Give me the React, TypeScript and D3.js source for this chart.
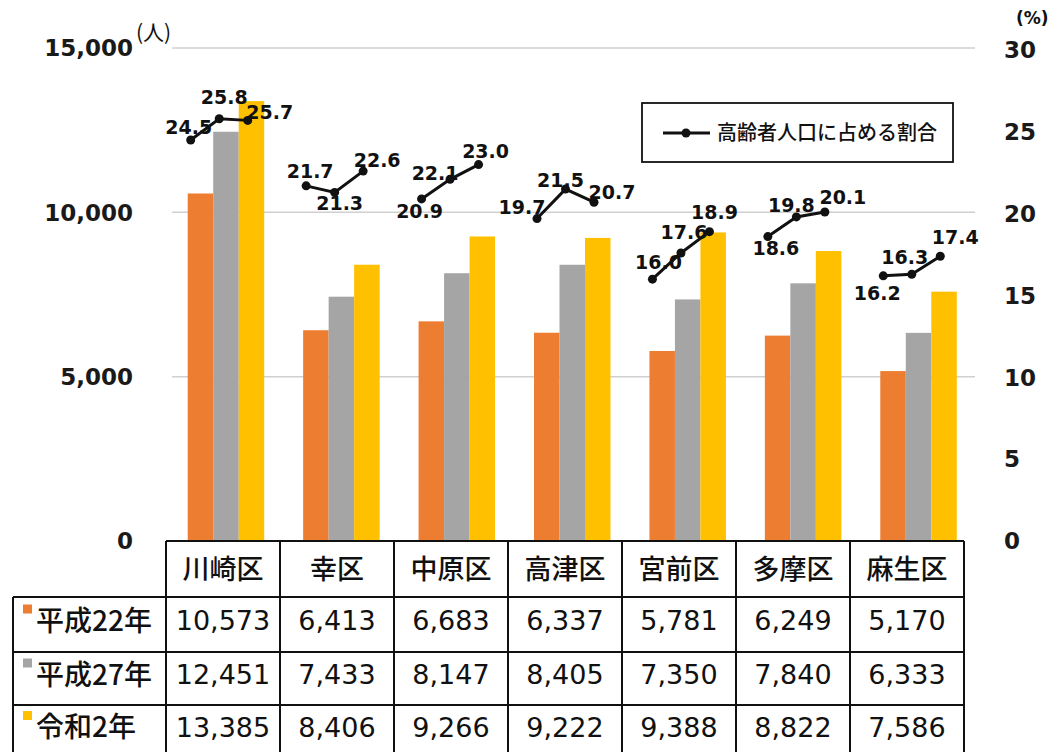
import React from 'react';
import * as d3 from 'd3';

const districts = ['川崎区', '幸区', '中原区', '高津区', '宮前区', '多摩区', '麻生区'];
const seriesNames = ['平成22年', '平成27年', '令和2年'];

const popH22 = [10573, 6413, 6683, 6337, 5781, 6249, 5170];
const popH27 = [12451, 7433, 8147, 8405, 7350, 7840, 6333];
const popR2 = [13385, 8406, 9266, 9222, 9388, 8822, 7586];

// 高齢者人口に占める割合 (%)
const ratioH22 = [24.5, 21.7, 20.9, 19.7, 16.0, 18.6, 16.2];
const ratioH27 = [25.8, 21.3, 22.1, 21.5, 17.6, 19.8, 16.3];
const ratioR2 = [25.7, 22.6, 23.0, 20.7, 18.9, 20.1, 17.4];

const leftTicks = [0, 5000, 10000, 15000];
const rightTicks = [0, 5, 10, 15, 20, 25, 30];

const legendLabel = '高齢者人口に占める割合';

// label offsets (dx, dy) per district, per year — placement only
const labelOffsets: [number, number][][] = [
  [[-2, -13], [5, -22], [22, -8]],
  [[4, -15], [5, 11], [14, -11]],
  [[-2, 12], [-15, -6], [7, -13]],
  [[-15, -11], [-5, -9], [18, -10]],
  [[6, -17], [3, -21], [5, -20]],
  [[8, 12], [-5, -12], [18, -15]],
  [[-6, 17], [-7, -17], [15, -19]],
];

const COLORS = ['#ED7D31', '#A5A5A5', '#FFC000'];
const NUM_FONT = '"DejaVu Sans", Verdana, sans-serif';
const JP_FONT = '"Noto Sans CJK JP", sans-serif';

export default function App() {
  const W = 1057;
  const H = 752;
  const y0 = 541;

  const pops = [popH22, popH27, popR2];
  const ratios = [ratioH22, ratioH27, ratioR2];

  const x = d3.scaleBand<string>().domain(districts).range([168, 976]);
  const xTable = d3.scaleBand<string>().domain(districts).range([166, 964]);
  const xBar = d3.scaleBand<number>().domain([0, 1, 2]).range([-38, 38.5]);
  const xPt = d3.scalePoint<number>().domain([0, 1, 2]).range([-35, 22]);

  const yL = d3.scaleLinear().domain([0, 15000]).range([y0, 48]);
  const yR = d3.scaleLinear().domain([0, 30]).range([y0, 50]);

  const fmt = d3.format(',');
  const line = d3.line<[number, number]>().x(d => d[0]).y(d => d[1]);

  const rowTops = [541, 597, 652, 705, 760];

  return (
    <svg width={W} height={H} style={{ position: 'absolute', left: 0, top: 0, background: '#fff' }}>
      {/* gridlines */}
      {leftTicks.filter(t => t > 0).map(t => (
        <line key={t} x1={172} x2={975} y1={yL(t)} y2={yL(t)} stroke="#d0d0d0" strokeWidth={1.5} />
      ))}

      {/* left axis */}
      {leftTicks.map(t => (
        <text key={t} x={133} y={yL(t)} dy="0.36em" textAnchor="end" fontFamily={NUM_FONT} fontSize={23} fontWeight="bold" fill="#1a1a1a">
          {fmt(t)}
        </text>
      ))}
      <text x={136} y={32} dy="0.36em" fontFamily={JP_FONT} fontSize={21} fill="#111">(人)</text>

      {/* right axis */}
      {rightTicks.map(t => (
        <text key={t} x={1004} y={yR(t)} dy="0.36em" textAnchor="start" fontFamily={NUM_FONT} fontSize={23} fontWeight="bold" fill="#1a1a1a">
          {t}
        </text>
      ))}
      <text x={1016} y={18} dy="0.36em" fontFamily={NUM_FONT} fontSize={17} fontWeight="bold" fill="#111">(%)</text>

      {/* bars */}
      {districts.map((d, i) => (
        <g key={d} transform={`translate(${x(d)! + x.bandwidth() / 2},0)`}>
          {pops.map((p, s) => (
            <rect key={s} x={xBar(s)} y={yL(p[i])} width={xBar.bandwidth()} height={y0 - yL(p[i])} fill={COLORS[s]} />
          ))}
        </g>
      ))}

      {/* ratio lines */}
      {districts.map((d, i) => {
        const cx = x(d)! + x.bandwidth() / 2;
        const pts: [number, number][] = ratios.map((r, s) => [cx + xPt(s)!, yR(r[i])]);
        return (
          <g key={d}>
            <path d={line(pts)!} fill="none" stroke="#111" strokeWidth={3} />
            {pts.map((p, s) => (
              <circle key={s} cx={p[0]} cy={p[1]} r={4.5} fill="#111" />
            ))}
            {pts.map((p, s) => (
              <text key={'t' + s} x={p[0] + labelOffsets[i][s][0]} y={p[1] + labelOffsets[i][s][1]} dy="0.36em"
                textAnchor="middle" fontFamily={NUM_FONT} fontSize={19} fontWeight="bold" fill="#111">
                {ratios[s][i].toFixed(1)}
              </text>
            ))}
          </g>
        );
      })}

      {/* legend */}
      <rect x={642} y={103} width={311} height={59} fill="#fff" stroke="#111" strokeWidth={1.8} />
      <line x1={663} x2={710} y1={133} y2={133} stroke="#111" strokeWidth={3} />
      <circle cx={686} cy={133} r={4.5} fill="#111" />
      <text x={717} y={133} dy="0.36em" fontFamily={JP_FONT} fontSize={20} fontWeight={500} fill="#111">{legendLabel}</text>

      {/* data table */}
      <g fill="none" stroke="#111" strokeWidth={2}>
        <line x1={166} x2={964} y1={rowTops[0]} y2={rowTops[0]} />
        {rowTops.slice(1).map(t => (
          <line key={t} x1={13} x2={964} y1={t} y2={t} />
        ))}
        {districts.map(d => (
          <line key={d} x1={xTable(d)} x2={xTable(d)} y1={rowTops[0]} y2={H + 10} />
        ))}
        <line x1={964} x2={964} y1={rowTops[0]} y2={H + 10} />
        <line x1={13} x2={13} y1={rowTops[1]} y2={H + 10} />
      </g>
      {districts.map(d => (
        <text key={d} x={xTable(d)! + xTable.bandwidth() / 2} y={569} dy="0.36em" textAnchor="middle"
          fontFamily={JP_FONT} fontSize={27} fontWeight={500} fill="#111">
          {d}
        </text>
      ))}
      {seriesNames.map((name, s) => {
        const cy = (rowTops[s + 1] + Math.min(rowTops[s + 2], 757)) / 2 - 4;
        return (
          <g key={name}>
            <rect x={23} y={cy - 16} width={9} height={9} fill={COLORS[s]} />
            <text x={36} y={cy} dy="0.36em" fontFamily={JP_FONT} fontSize={28} fontWeight={500} fill="#111">{name}</text>
            {districts.map((d, i) => (
              <text key={d} x={xTable(d)! + xTable.bandwidth() / 2} y={cy} dy="0.36em" textAnchor="middle"
                fontFamily={NUM_FONT} fontSize={27} fill="#111">
                {fmt(pops[s][i])}
              </text>
            ))}
          </g>
        );
      })}
    </svg>
  );
}
